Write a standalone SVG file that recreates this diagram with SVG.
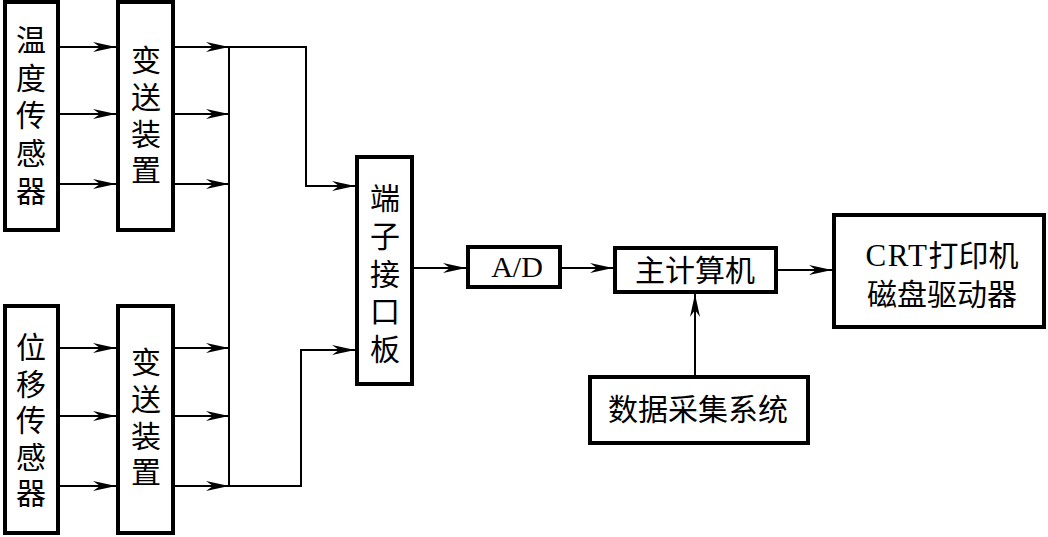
<svg xmlns="http://www.w3.org/2000/svg" width="1048" height="537" viewBox="0 0 1048 537">
<style>
.box{fill:#fff;stroke:#000;stroke-width:4}
.ln{fill:none;stroke:#000;stroke-width:2}
.t{font-family:"Liberation Serif","Noto Sans CJK SC",serif;font-size:30px;fill:#000;text-anchor:middle}
</style>
<defs>
<marker id="ah" markerUnits="userSpaceOnUse" markerWidth="26" markerHeight="12" viewBox="-24 -6 26 12" refX="0" refY="0" orient="auto">
<path d="M0,0 L-23,-5 L-16,0 L-23,5 Z" fill="#000"/>
</marker>
</defs>
<rect width="1048" height="537" fill="#fff"/>
<g id="connectors">
<line class="ln" x1="60" y1="47" x2="116" y2="47" marker-end="url(#ah)"/>
<line class="ln" x1="60" y1="114" x2="116" y2="114" marker-end="url(#ah)"/>
<line class="ln" x1="60" y1="184" x2="116" y2="184" marker-end="url(#ah)"/>
<line class="ln" x1="175" y1="47" x2="229" y2="47" marker-end="url(#ah)"/>
<line class="ln" x1="175" y1="114" x2="229" y2="114" marker-end="url(#ah)"/>
<line class="ln" x1="175" y1="184" x2="229" y2="184" marker-end="url(#ah)"/>
<line class="ln" x1="60" y1="348" x2="116" y2="348" marker-end="url(#ah)"/>
<line class="ln" x1="60" y1="416" x2="116" y2="416" marker-end="url(#ah)"/>
<line class="ln" x1="60" y1="486" x2="116" y2="486" marker-end="url(#ah)"/>
<line class="ln" x1="175" y1="348" x2="229" y2="348" marker-end="url(#ah)"/>
<line class="ln" x1="175" y1="416" x2="229" y2="416" marker-end="url(#ah)"/>
<line class="ln" x1="175" y1="486" x2="229" y2="486" marker-end="url(#ah)"/>
<line class="ln" x1="229" y1="47" x2="229" y2="487"/>
<polyline class="ln" points="229,47 306,47 306,186 355,186" marker-end="url(#ah)"/>
<polyline class="ln" points="229,486 301,486 301,350 355,350" marker-end="url(#ah)"/>
<line class="ln" x1="414" y1="268" x2="466" y2="268" marker-end="url(#ah)"/>
<line class="ln" x1="562" y1="268" x2="613" y2="268" marker-end="url(#ah)"/>
<line class="ln" x1="778" y1="270" x2="832" y2="270" marker-end="url(#ah)"/>
<line class="ln" x1="695" y1="375" x2="695" y2="294" marker-end="url(#ah)"/>
</g>
<g id="temp-sensor">
<rect class="box" x="5" y="2" width="53" height="228"/>
<text class="t"><tspan x="31" y="51">温</tspan><tspan x="31" y="89">度</tspan><tspan x="31" y="126">传</tspan><tspan x="31" y="164">感</tspan><tspan x="31" y="202">器</tspan></text>
</g>
<g id="transmitter-1">
<rect class="box" x="118" y="2" width="55" height="228"/>
<text class="t"><tspan x="146" y="71">变</tspan><tspan x="146" y="108">送</tspan><tspan x="146" y="145">装</tspan><tspan x="146" y="181">置</tspan></text>
</g>
<g id="disp-sensor">
<rect class="box" x="5" y="306" width="53" height="227"/>
<text class="t"><tspan x="31" y="358">位</tspan><tspan x="31" y="395">移</tspan><tspan x="31" y="431">传</tspan><tspan x="31" y="468">感</tspan><tspan x="31" y="504">器</tspan></text>
</g>
<g id="transmitter-2">
<rect class="box" x="118" y="306" width="55" height="227"/>
<text class="t"><tspan x="146" y="373">变</tspan><tspan x="146" y="410">送</tspan><tspan x="146" y="447">装</tspan><tspan x="146" y="483">置</tspan></text>
</g>
<g id="terminal-board">
<rect class="box" x="357" y="157" width="55" height="227"/>
<text class="t"><tspan x="385" y="209">端</tspan><tspan x="385" y="247">子</tspan><tspan x="385" y="285">接</tspan><tspan x="385" y="322">口</tspan><tspan x="385" y="360">板</tspan></text>
</g>
<g id="ad">
<rect class="box" x="468" y="247" width="92" height="40"/>
<text class="t" x="517" y="277">A/D</text>
</g>
<g id="host">
<rect class="box" x="615" y="248" width="161" height="44"/>
<text class="t" x="695" y="281">主计算机</text>
</g>
<g id="output">
<rect class="box" x="834" y="215" width="210" height="112"/>
<text class="t" x="942" y="266"><tspan font-size="31" letter-spacing="1.5">CRT</tspan>打印机</text>
<text class="t" x="942" y="305">磁盘驱动器</text>
</g>
<g id="daq">
<rect class="box" x="590" y="377" width="218" height="66"/>
<text class="t" x="698" y="420">数据采集系统</text>
</g>
</svg>
